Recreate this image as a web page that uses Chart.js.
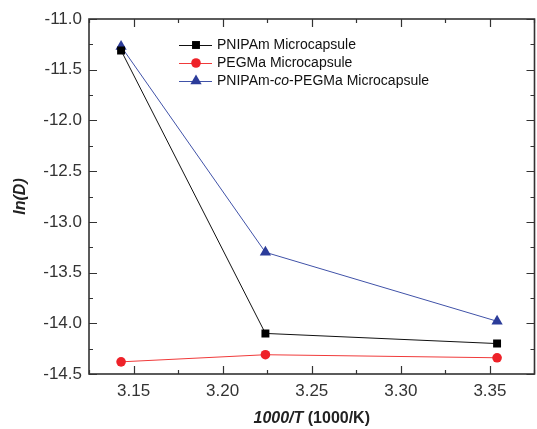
<!DOCTYPE html>
<html>
<head>
<meta charset="utf-8">
<script src="https://cdn.jsdelivr.net/npm/chart.js@4.4.1/dist/chart.umd.min.js"></script>
<style>
  html, body { margin: 0; padding: 0; background: #fff; overflow: hidden; }
  #wrap { width: 541px; height: 429px; }
</style>
</head>
<body>
<div id="wrap"><canvas id="diffChart"></canvas></div>
<script>
// values
const invT = [3.143, 3.224, 3.354];
const pnipam = [-11.31, -14.10, -14.20];
const pegma = [-14.38, -14.31, -14.34];
const copoly = [-11.27, -13.30, -13.98];
const xTicks = [3.15, 3.20, 3.25, 3.30, 3.35];
const yTicks = [-14.5, -14.0, -13.5, -13.0, -12.5, -12.0, -11.5, -11.0];

const FONT = '"Liberation Sans", Arial, sans-serif';

function pts(ys) {
    return invT.map((x, i) => ({ x: x, y: ys[i] }));
}

// box round the plot with inward major/minor ticks
const framePlugin = {
    id: 'frame',
    beforeDatasetsDraw(chart) {
        const { ctx, chartArea: a, scales } = chart;
        const xs = scales.x, ys = scales.y;
        ctx.save();
        ctx.strokeStyle = '#333';
        ctx.lineWidth = 1.6;
        ctx.strokeRect(a.left, a.top, a.right - a.left, a.bottom - a.top);
        ctx.lineWidth = 1.2;
        ctx.beginPath();
        for (let v = xs.min; v <= xs.max + 1e-9; v += 0.025) {
            const px = Math.round(xs.getPixelForValue(v)) + 0.5;
            const major = Math.abs(v / 0.05 - Math.round(v / 0.05)) < 1e-6;
            const len = major ? 8 : 4;
            ctx.moveTo(px, a.bottom); ctx.lineTo(px, a.bottom - len);
            ctx.moveTo(px, a.top); ctx.lineTo(px, a.top + len);
        }
        for (let v = ys.min; v <= ys.max + 1e-9; v += 0.25) {
            const py = Math.round(ys.getPixelForValue(v)) + 0.5;
            const major = Math.abs(v / 0.5 - Math.round(v / 0.5)) < 1e-6;
            const len = major ? 8 : 4;
            ctx.moveTo(a.left, py); ctx.lineTo(a.left + len, py);
            ctx.moveTo(a.right, py); ctx.lineTo(a.right - len, py);
        }
        ctx.stroke();
        ctx.restore();
    }
};

function drawMarker(ctx, style, x, y, r, color) {
    ctx.fillStyle = color;
    ctx.beginPath();
    if (style === 'rect') {
        const s = Math.SQRT1_2 * r;
        ctx.rect(x - s, y - s, 2 * s, 2 * s);
    } else if (style === 'triangle') {
        let rad = 0;
        ctx.moveTo(x + Math.sin(rad) * r, y - Math.cos(rad) * r);
        rad += 2 * Math.PI / 3;
        ctx.lineTo(x + Math.sin(rad) * r, y - Math.cos(rad) * r);
        rad += 2 * Math.PI / 3;
        ctx.lineTo(x + Math.sin(rad) * r, y - Math.cos(rad) * r);
        ctx.closePath();
    } else {
        ctx.arc(x, y, r, 0, Math.PI * 2);
    }
    ctx.fill();
}

// legend (line + marker) and axis titles with mixed styles
const decorPlugin = {
    id: 'decor',
    afterDraw(chart) {
        const { ctx, chartArea: a } = chart;
        ctx.save();
        chart.data.datasets.forEach((ds, i) => {
            const y = 45 + i * 18;
            ctx.strokeStyle = ds.borderColor;
            ctx.lineWidth = 1;
            ctx.beginPath();
            ctx.moveTo(179, y + 0.5);
            ctx.lineTo(212, y + 0.5);
            ctx.stroke();
            drawMarker(ctx, ds.pointStyle, 196, y, ds.pointRadius, ds.pointBackgroundColor);
            ctx.fillStyle = '#111';
            ctx.font = '14px ' + FONT;
            ctx.textBaseline = 'middle';
            ctx.textAlign = 'left';
            if (ds.label.indexOf('-co-') > 0) {
                const parts = ds.label.split('-co-');
                let x = 217;
                ctx.fillText(parts[0] + '-', x, y);
                x += ctx.measureText(parts[0] + '-').width;
                ctx.font = 'italic 14px ' + FONT;
                ctx.fillText('co', x, y);
                x += ctx.measureText('co').width;
                ctx.font = '14px ' + FONT;
                ctx.fillText('-' + parts[1], x, y);
            } else {
                ctx.fillText(ds.label, 217, y);
            }
        });

        // x title
        ctx.fillStyle = '#222';
        ctx.textBaseline = 'middle';
        ctx.textAlign = 'left';
        const p1 = '1000/T', p2 = ' (1000/K)';
        ctx.font = 'italic bold 16px ' + FONT;
        const w1 = ctx.measureText(p1).width;
        ctx.font = 'bold 16px ' + FONT;
        const w2 = ctx.measureText(p2).width;
        let x0 = (a.left + a.right) / 2 - (w1 + w2) / 2;
        ctx.font = 'italic bold 16px ' + FONT;
        ctx.fillText(p1, x0, 419);
        ctx.font = 'bold 16px ' + FONT;
        ctx.fillText(p2, x0 + w1, 419);

        // y title
        ctx.translate(21, (a.top + a.bottom) / 2);
        ctx.rotate(-Math.PI / 2);
        ctx.textAlign = 'center';
        ctx.font = 'italic bold 16px ' + FONT;
        ctx.fillText('ln(D)', 0, 0);
        ctx.restore();
    }
};

new Chart(document.getElementById('diffChart'), {
    type: 'scatter',
    data: {
        datasets: [
            {
                label: 'PNIPAm Microcapsule',
                data: pts(pnipam),
                showLine: true,
                borderColor: '#111',
                borderWidth: 1,
                pointStyle: 'rect',
                pointRadius: 5.6,
                pointBackgroundColor: '#000',
                pointBorderWidth: 0
            },
            {
                label: 'PEGMa Microcapsule',
                data: pts(pegma),
                showLine: true,
                borderColor: '#f03a3a',
                borderWidth: 1,
                pointStyle: 'circle',
                pointRadius: 4.8,
                pointBackgroundColor: '#ee2229',
                pointBorderWidth: 0
            },
            {
                label: 'PNIPAm-co-PEGMa Microcapsule',
                data: pts(copoly),
                showLine: true,
                borderColor: '#4052a8',
                borderWidth: 1,
                pointStyle: 'triangle',
                pointRadius: 6.5,
                pointBackgroundColor: '#2c3c9a',
                pointBorderWidth: 0
            }
        ]
    },
    options: {
        responsive: true,
        maintainAspectRatio: false,
        animation: false,
        layout: { padding: { top: 19, right: 3, left: 0, bottom: 0 } },
        plugins: {
            legend: { display: false },
            tooltip: { enabled: false }
        },
        scales: {
            x: {
                type: 'linear',
                min: 3.125,
                max: 3.375,
                grid: { display: false, drawTicks: false },
                border: { display: false },
                afterBuildTicks: s => { s.ticks = xTicks.map(v => ({ value: v })); },
                afterFit: s => { s.height = 55; },
                ticks: {
                    padding: 7,
                    color: '#333',
                    font: { family: FONT, size: 17 },
                    callback: v => v.toFixed(2)
                }
            },
            y: {
                type: 'linear',
                min: -14.5,
                max: -11.0,
                grid: { display: false, drawTicks: false },
                border: { display: false },
                afterBuildTicks: s => { s.ticks = yTicks.map(v => ({ value: v })); },
                afterFit: s => { s.width = 89; },
                ticks: {
                    padding: 7,
                    color: '#333',
                    font: { family: FONT, size: 17 },
                    callback: v => v.toFixed(1)
                }
            }
        }
    },
    plugins: [framePlugin, decorPlugin]
});
</script>
</body>
</html>
